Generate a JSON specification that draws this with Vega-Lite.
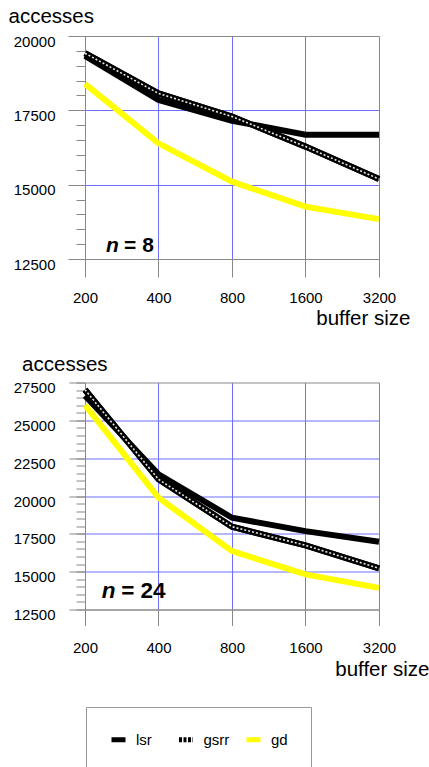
{
  "$schema": "https://vega.github.io/schema/vega-lite/v6.json",
  "padding": {"left": 8, "top": 6, "right": 2, "bottom": 2},
  "background": "white",
  "config": {
    "font": "Liberation Sans",
    "view": {"stroke": null},
    "axis": {"labelColor": "#000", "titleColor": "#000", "titleFontWeight": "normal", "labelFontSize": 15, "titleFontSize": 20.5, "labelOverlap": false, "labelFlush": false}
  },
  "datasets": {
    "n8": [
      {"series": "lsr", "buffer": 200, "accesses": 19330},
      {"series": "lsr", "buffer": 400, "accesses": 17850},
      {"series": "lsr", "buffer": 800, "accesses": 17150},
      {"series": "lsr", "buffer": 1600, "accesses": 16680},
      {"series": "lsr", "buffer": 3200, "accesses": 16680},
      {"series": "gsrr", "buffer": 200, "accesses": 19420},
      {"series": "gsrr", "buffer": 400, "accesses": 18070},
      {"series": "gsrr", "buffer": 800, "accesses": 17290},
      {"series": "gsrr", "buffer": 1600, "accesses": 16280},
      {"series": "gsrr", "buffer": 3200, "accesses": 15190},
      {"series": "gd", "buffer": 200, "accesses": 18390},
      {"series": "gd", "buffer": 400, "accesses": 16390},
      {"series": "gd", "buffer": 800, "accesses": 15100},
      {"series": "gd", "buffer": 1600, "accesses": 14260},
      {"series": "gd", "buffer": 3200, "accesses": 13840}
    ],
    "n24": [
      {"series": "lsr", "buffer": 200, "accesses": 26620},
      {"series": "lsr", "buffer": 400, "accesses": 21440},
      {"series": "lsr", "buffer": 800, "accesses": 18565},
      {"series": "lsr", "buffer": 1600, "accesses": 17680},
      {"series": "lsr", "buffer": 3200, "accesses": 16980},
      {"series": "gsrr", "buffer": 200, "accesses": 27020},
      {"series": "gsrr", "buffer": 400, "accesses": 21100},
      {"series": "gsrr", "buffer": 800, "accesses": 17970},
      {"series": "gsrr", "buffer": 1600, "accesses": 16740},
      {"series": "gsrr", "buffer": 3200, "accesses": 15220},
      {"series": "gd", "buffer": 200, "accesses": 26000},
      {"series": "gd", "buffer": 400, "accesses": 19890},
      {"series": "gd", "buffer": 800, "accesses": 16360},
      {"series": "gd", "buffer": 1600, "accesses": 14820},
      {"series": "gd", "buffer": 3200, "accesses": 13930}
    ]
  },
  "spacing": 24.5,
  "resolve": {"scale": {"color": "shared"}, "legend": {"color": "shared"}},
  "vconcat": [
    {
      "width": 294,
      "height": 223,
      "data": {"name": "n8"},
      "resolve": {"axis": {"x": "independent", "y": "independent"}},
      "layer": [
        {
          "mark": {"type": "line", "strokeWidth": 6},
          "encoding": {
            "x": {"field": "buffer", "type": "quantitative",
              "scale": {"type": "log", "base": 2, "domain": [200, 3200], "nice": false},
              "axis": {"orient": "bottom", "title": "buffer size", "titleAlign": "right", "titleAnchor": null, "titleBaseline": "alphabetic", "titleX": 325, "titleY": 65,
                "values": [200, 400, 800, 1600, 3200], "format": "d", "labelPadding": 13.6,
                "tickSize": 18, "tickColor": "#888", "domainColor": "#888",
                "grid": true, "gridColor": {"condition": {"test": "datum.value == 200 || datum.value == 3200", "value": "#888"}, "value": "#6e6eff"}}},
            "y": {"field": "accesses", "type": "quantitative",
              "scale": {"domain": [12500, 20000], "nice": false, "zero": false},
              "axis": {"orient": "left", "title": "accesses", "titleAngle": 0, "titleAlign": "left", "titleAnchor": null, "titleBaseline": "alphabetic", "titleX": -77, "titleY": -14,
                "values": [12500, 15000, 17500, 20000], "format": "d",
                "labelPadding": 13, "labelOffset": 5, "labelBaseline": "middle",
                "tickSize": 17, "tickColor": "#888", "domainColor": "#888",
                "grid": true,
                "gridColor": {"condition": {"test": "datum.value == 12500 || datum.value == 20000", "value": "#888"}, "value": "#6e6eff"}}},
            "color": {"field": "series", "type": "nominal",
              "scale": {"domain": ["lsr", "gsrr", "gd"], "range": ["#000000", "#000000", "#ffff00"]},
              "legend": {"title": null, "orient": "none", "legendX": 1, "legendY": 671, "direction": "horizontal", "columns": 3,
                "strokeColor": "#999", "padding": 23, "gridAlign": "all", "columnPadding": 6.5,
                "symbolType": "stroke", "symbolStrokeWidth": 5, "symbolSize": 196, "labelFontSize": 15, "labelColor": "#000", "labelOffset": 8,
                "encode": {"symbols": {"update": {"strokeDash": {"signal": "datum.value == 'gsrr' ? [3, 1.5] : [1, 0]"}}}}}}
          }
        },
        {
          "transform": [{"filter": "datum.series == 'gsrr'"}],
          "mark": {"type": "line", "strokeWidth": 6, "color": "#000"},
          "encoding": {
            "x": {"field": "buffer", "type": "quantitative", "axis": null},
            "y": {"field": "accesses", "type": "quantitative",
              "axis": {"orient": "left", "title": null, "labels": false, "domain": false, "grid": false,
                "values": [12500,13000,13500,14000,14500,15000,15500,16000,16500,17000,17500,18000,18500,19000,19500,20000],
                "tickSize": 9, "tickColor": "#888"}}
          }
        },
        {
          "transform": [{"filter": "datum.series == 'gsrr'"}],
          "mark": {"type": "line", "strokeWidth": 1.6, "color": "#e6e6e6", "strokeDash": [2, 2]},
          "encoding": {
            "x": {"field": "buffer", "type": "quantitative", "axis": null},
            "y": {"field": "accesses", "type": "quantitative", "axis": null}
          }
        },
        {
          "data": {"values": [{}]},
          "mark": {"type": "text", "fontStyle": "italic", "fontWeight": "bold", "fontSize": 21, "align": "left", "baseline": "alphabetic", "color": "#000"},
          "encoding": {"x": {"datum": 244, "type": "quantitative", "axis": null}, "y": {"datum": 12746, "type": "quantitative", "axis": null}, "text": {"value": "n"}}
        },
        {
          "data": {"values": [{}]},
          "mark": {"type": "text", "fontWeight": "bold", "fontSize": 21, "align": "left", "baseline": "alphabetic", "dx": 18, "color": "#000"},
          "encoding": {"x": {"datum": 244, "type": "quantitative", "axis": null}, "y": {"datum": 12746, "type": "quantitative", "axis": null}, "text": {"value": "= 8"}}
        }
      ]
    },
    {
      "width": 294,
      "height": 227,
      "data": {"name": "n24"},
      "resolve": {"axis": {"x": "independent", "y": "independent"}},
      "layer": [
        {
          "mark": {"type": "line", "strokeWidth": 6},
          "encoding": {
            "x": {"field": "buffer", "type": "quantitative",
              "scale": {"type": "log", "base": 2, "domain": [200, 3200], "nice": false},
              "axis": {"orient": "bottom", "title": "buffer size", "titleAlign": "right", "titleAnchor": null, "titleBaseline": "alphabetic", "titleX": 344, "titleY": 66,
                "values": [200, 400, 800, 1600, 3200], "format": "d", "labelPadding": 14.6,
                "tickSize": 16, "tickColor": "#888", "domainColor": "#888",
                "grid": true, "gridColor": {"condition": {"test": "datum.value == 200 || datum.value == 3200", "value": "#888"}, "value": "#6e6eff"}}},
            "y": {"field": "accesses", "type": "quantitative",
              "scale": {"domain": [12500, 27500], "nice": false, "zero": false},
              "axis": {"orient": "left", "title": "accesses", "titleAngle": 0, "titleAlign": "left", "titleAnchor": null, "titleBaseline": "alphabetic", "titleX": -63.4, "titleY": -12.4,
                "values": [12500, 15000, 17500, 20000, 22500, 25000, 27500], "format": "d",
                "labelPadding": 14, "labelOffset": 5, "labelBaseline": "middle",
                "tickSize": 16, "tickColor": "#888", "domainColor": "#888",
                "grid": true,
                "gridColor": {"condition": {"test": "datum.value == 12500 || datum.value == 27500", "value": "#888"}, "value": "#6e6eff"}}},
            "color": {"field": "series", "type": "nominal",
              "scale": {"domain": ["lsr", "gsrr", "gd"], "range": ["#000000", "#000000", "#ffff00"]}}
          }
        },
        {
          "transform": [{"filter": "datum.series == 'gsrr'"}],
          "mark": {"type": "line", "strokeWidth": 6, "color": "#000"},
          "encoding": {
            "x": {"field": "buffer", "type": "quantitative", "axis": null},
            "y": {"field": "accesses", "type": "quantitative",
              "axis": {"orient": "left", "title": null, "labels": false, "domain": false, "grid": false,
                "values": [12500,13000,13500,14000,14500,15000,15500,16000,16500,17000,17500,18000,18500,19000,19500,20000,20500,21000,21500,22000,22500,23000,23500,24000,24500,25000,25500,26000,26500,27000,27500],
                "tickSize": 9, "tickColor": "#888"}}
          }
        },
        {
          "transform": [{"filter": "datum.series == 'gsrr'"}],
          "mark": {"type": "line", "strokeWidth": 1.6, "color": "#e6e6e6", "strokeDash": [2, 2]},
          "encoding": {
            "x": {"field": "buffer", "type": "quantitative", "axis": null},
            "y": {"field": "accesses", "type": "quantitative", "axis": null}
          }
        },
        {
          "data": {"values": [{}]},
          "mark": {"type": "text", "fontStyle": "italic", "fontWeight": "bold", "fontSize": 22.5, "align": "left", "baseline": "alphabetic", "color": "#000"},
          "encoding": {"x": {"datum": 234, "type": "quantitative", "axis": null}, "y": {"datum": 13228, "type": "quantitative", "axis": null}, "text": {"value": "n"}}
        },
        {
          "data": {"values": [{}]},
          "mark": {"type": "text", "fontWeight": "bold", "fontSize": 22.5, "align": "left", "baseline": "alphabetic", "dx": 19.5, "color": "#000"},
          "encoding": {"x": {"datum": 234, "type": "quantitative", "axis": null}, "y": {"datum": 13228, "type": "quantitative", "axis": null}, "text": {"value": "= 24"}}
        }
      ]
    }
  ]
}
